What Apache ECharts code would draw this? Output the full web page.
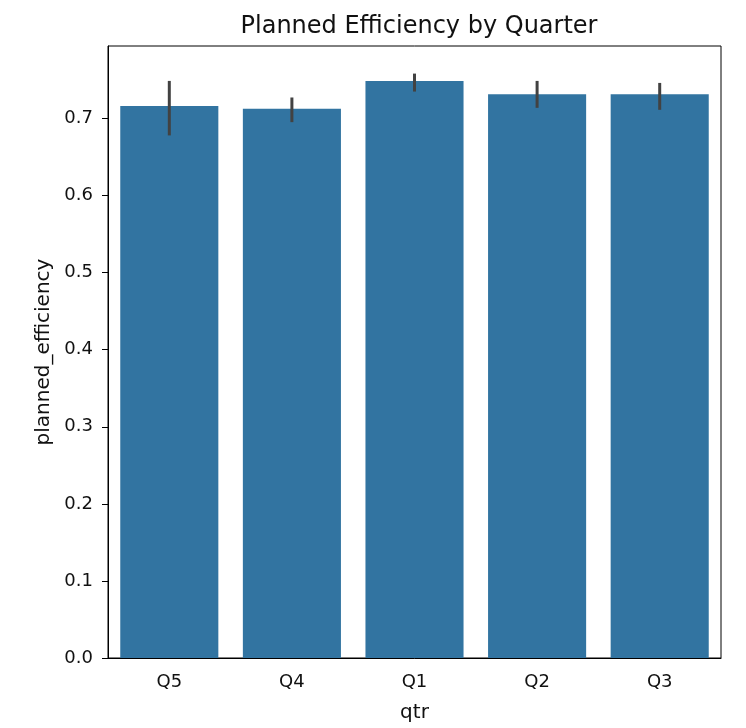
<!DOCTYPE html>
<html><head><meta charset="utf-8">
<script src="https://cdn.jsdelivr.net/npm/echarts@6/dist/echarts.min.js"></script>
<style>html,body{margin:0;padding:0;background:#fff}#c{width:746px;height:728px}</style>
</head><body><div id="c"></div>
<script>
const categories = ["Q5", "Q4", "Q1", "Q2", "Q3"];
const meanValues = [0.716, 0.7125, 0.7487, 0.7315, 0.7315];
const ciLow = [0.678, 0.6952, 0.7349, 0.7138, 0.7112];
const ciHigh = [0.7487, 0.7272, 0.7582, 0.7487, 0.7461];

const chart = echarts.init(document.getElementById('c'));
const font = 'DejaVu Sans';
chart.setOption({
  animation: false,
  title: {
    text: 'Planned Efficiency by Quarter', left: 414, top: 10, textAlign: 'center',
    textStyle: { fontFamily: font, fontSize: 24, fontWeight: 'normal', color: '#111' }
  },
  grid: { left: 108, right: 25, top: 46, bottom: 69, show: true, borderColor: '#000', borderWidth: 1 },
  xAxis: {
    type: 'category', data: categories, name: 'qtr', nameLocation: 'middle', nameGap: 45,
    nameTextStyle: { fontFamily: font, fontSize: 20, color: '#111' },
    axisLine: { lineStyle: { color: '#000', width: 1 } },
    axisTick: { alignWithLabel: true, length: 6, lineStyle: { color: '#000' } },
    axisLabel: { fontFamily: font, fontSize: 18, color: '#111', margin: 15 }
  },
  yAxis: {
    type: 'value', min: 0, max: 0.794, interval: 0.1,
    name: 'planned_efficiency', nameLocation: 'middle', nameGap: 47,
    nameTextStyle: { fontFamily: font, fontSize: 20, color: '#111' },
    splitLine: { show: false },
    axisLine: { show: true, lineStyle: { color: '#000', width: 1 } },
    axisTick: { show: true, length: 6, lineStyle: { color: '#000' } },
    axisLabel: { fontFamily: font, fontSize: 18, color: '#111', margin: 15, showMaxLabel: false,
      formatter: v => v.toFixed(1) }
  },
  series: [
    {
      type: 'bar', data: meanValues, barCategoryGap: '20%',
      itemStyle: { color: '#3274a1' }
    },
    {
      type: 'custom',
      data: categories.map((c, i) => [i, ciLow[i], ciHigh[i]]),
      renderItem: (params, api) => {
        const lo = api.coord([api.value(0), api.value(1)]);
        const hi = api.coord([api.value(0), api.value(2)]);
        return { type: 'line', shape: { x1: lo[0], y1: lo[1], x2: hi[0], y2: hi[1] },
          style: { stroke: '#424242', lineWidth: 3 } };
      },
      z: 5
    }
  ]
});
</script></body></html>
